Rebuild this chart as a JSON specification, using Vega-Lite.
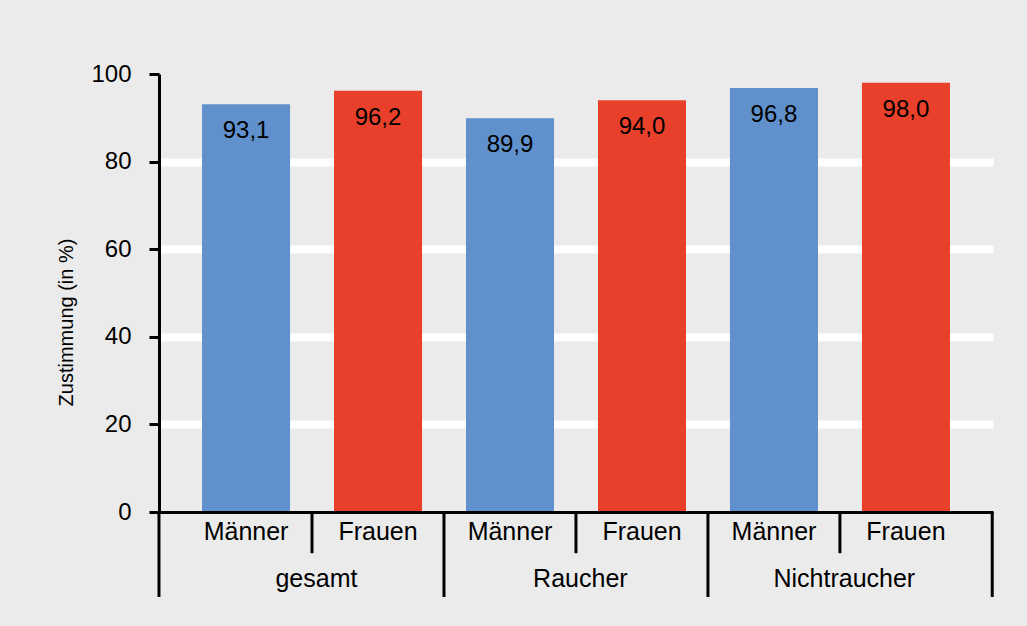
{
  "$schema": "https://vega.github.io/schema/vega-lite/v6.json",
  "width": 834,
  "height": 438,
  "autosize": {"type": "none"},
  "padding": {"left": 159, "top": 74, "right": 34, "bottom": 114},
  "background": "#ebebeb",
  "config": {
    "view": {"stroke": null},
    "font": "Liberation Sans",
    "locale": {"number": {"decimal": ",", "thousands": ".", "grouping": [3], "currency": ["", " €"]}}
  },
  "data": {
    "values": [
      {"kategorie": "gesamt|Männer", "gruppe": "gesamt", "geschlecht": "Männer", "wert": 93.1},
      {"kategorie": "gesamt|Frauen", "gruppe": "gesamt", "geschlecht": "Frauen", "wert": 96.2},
      {"kategorie": "Raucher|Männer", "gruppe": "Raucher", "geschlecht": "Männer", "wert": 89.9},
      {"kategorie": "Raucher|Frauen", "gruppe": "Raucher", "geschlecht": "Frauen", "wert": 94.0},
      {"kategorie": "Nichtraucher|Männer", "gruppe": "Nichtraucher", "geschlecht": "Männer", "wert": 96.8},
      {"kategorie": "Nichtraucher|Frauen", "gruppe": "Nichtraucher", "geschlecht": "Frauen", "wert": 98.0}
    ]
  },
  "encoding": {
    "x": {
      "field": "kategorie",
      "type": "nominal",
      "sort": null,
      "scale": {"paddingInner": 0.333, "paddingOuter": 0.326},
      "axis": {
        "title": null,
        "labelExpr": "split(datum.label, '|')[1]",
        "labelAngle": 0,
        "labelFontSize": 25,
        "labelColor": "black",
        "labelPadding": 7,
        "ticks": false,
        "domainColor": "black",
        "domainWidth": 3,
        "grid": false,
        "zindex": 1
      }
    },
    "y": {
      "field": "wert",
      "type": "quantitative",
      "scale": {"domain": [0, 100], "nice": false},
      "axis": {
        "values": [0, 20, 40, 60, 80, 100],
        "title": "Zustimmung (in %)",
        "titleFontSize": 20,
        "titleFontWeight": "normal",
        "titleColor": "black",
        "titlePadding": 14,
        "titleY": 248,
        "labelFontSize": 24,
        "labelColor": "black",
        "labelPadding": 18,
        "tickColor": "black",
        "tickWidth": 3,
        "tickSize": 10,
        "domainColor": "black",
        "domainWidth": 3,
        "grid": true,
        "gridColor": "white",
        "gridWidth": 8,
        "gridOpacity": {"condition": {"test": "datum.value === 0 || datum.value === 100", "value": 0}, "value": 1}
      }
    }
  },
  "layer": [
    {
      "mark": {"type": "bar"},
      "encoding": {
        "color": {
          "field": "geschlecht",
          "type": "nominal",
          "scale": {"domain": ["Männer", "Frauen"], "range": ["#6191cc", "#e9402b"]},
          "legend": null
        }
      }
    },
    {
      "mark": {"type": "text", "dy": 34, "baseline": "alphabetic", "fontSize": 24, "color": "black"},
      "encoding": {
        "text": {"field": "wert", "type": "quantitative", "format": ".1f"}
      }
    },
    {
      "transform": [{"filter": "datum.geschlecht === 'Frauen'"}],
      "mark": {"type": "rule", "color": "black", "strokeWidth": 3},
      "encoding": {
        "x": {"field": "kategorie", "type": "nominal", "sort": null, "bandPosition": -0.25},
        "y": {"datum": 0, "type": "quantitative"},
        "y2": {"datum": -9.4}
      }
    },
    {
      "transform": [{"filter": "datum.geschlecht === 'Männer' && datum.gruppe !== 'gesamt'"}],
      "mark": {"type": "rule", "color": "black", "strokeWidth": 3},
      "encoding": {
        "x": {"field": "kategorie", "type": "nominal", "sort": null, "bandPosition": -0.25},
        "y": {"datum": 0, "type": "quantitative"},
        "y2": {"datum": -19.4}
      }
    },
    {
      "transform": [{"filter": "datum.kategorie === 'gesamt|Männer'"}],
      "mark": {"type": "rule", "color": "black", "strokeWidth": 3},
      "encoding": {
        "x": {"field": "kategorie", "type": "nominal", "sort": null, "bandPosition": -0.489},
        "y": {"datum": 0, "type": "quantitative"},
        "y2": {"datum": -19.4}
      }
    },
    {
      "transform": [{"filter": "datum.kategorie === 'Nichtraucher|Frauen'"}],
      "mark": {"type": "rule", "color": "black", "strokeWidth": 3},
      "encoding": {
        "x": {"field": "kategorie", "type": "nominal", "sort": null, "bandPosition": 1.48},
        "y": {"datum": 0, "type": "quantitative"},
        "y2": {"datum": -19.4}
      }
    },
    {
      "transform": [{"filter": "datum.geschlecht === 'Frauen'"}],
      "mark": {"type": "text", "baseline": "alphabetic", "fontSize": 25, "color": "black"},
      "encoding": {
        "x": {"field": "kategorie", "type": "nominal", "sort": null, "bandPosition": -0.2},
        "y": {"datum": -17.1, "type": "quantitative"},
        "text": {"field": "gruppe", "type": "nominal"}
      }
    }
  ]
}
